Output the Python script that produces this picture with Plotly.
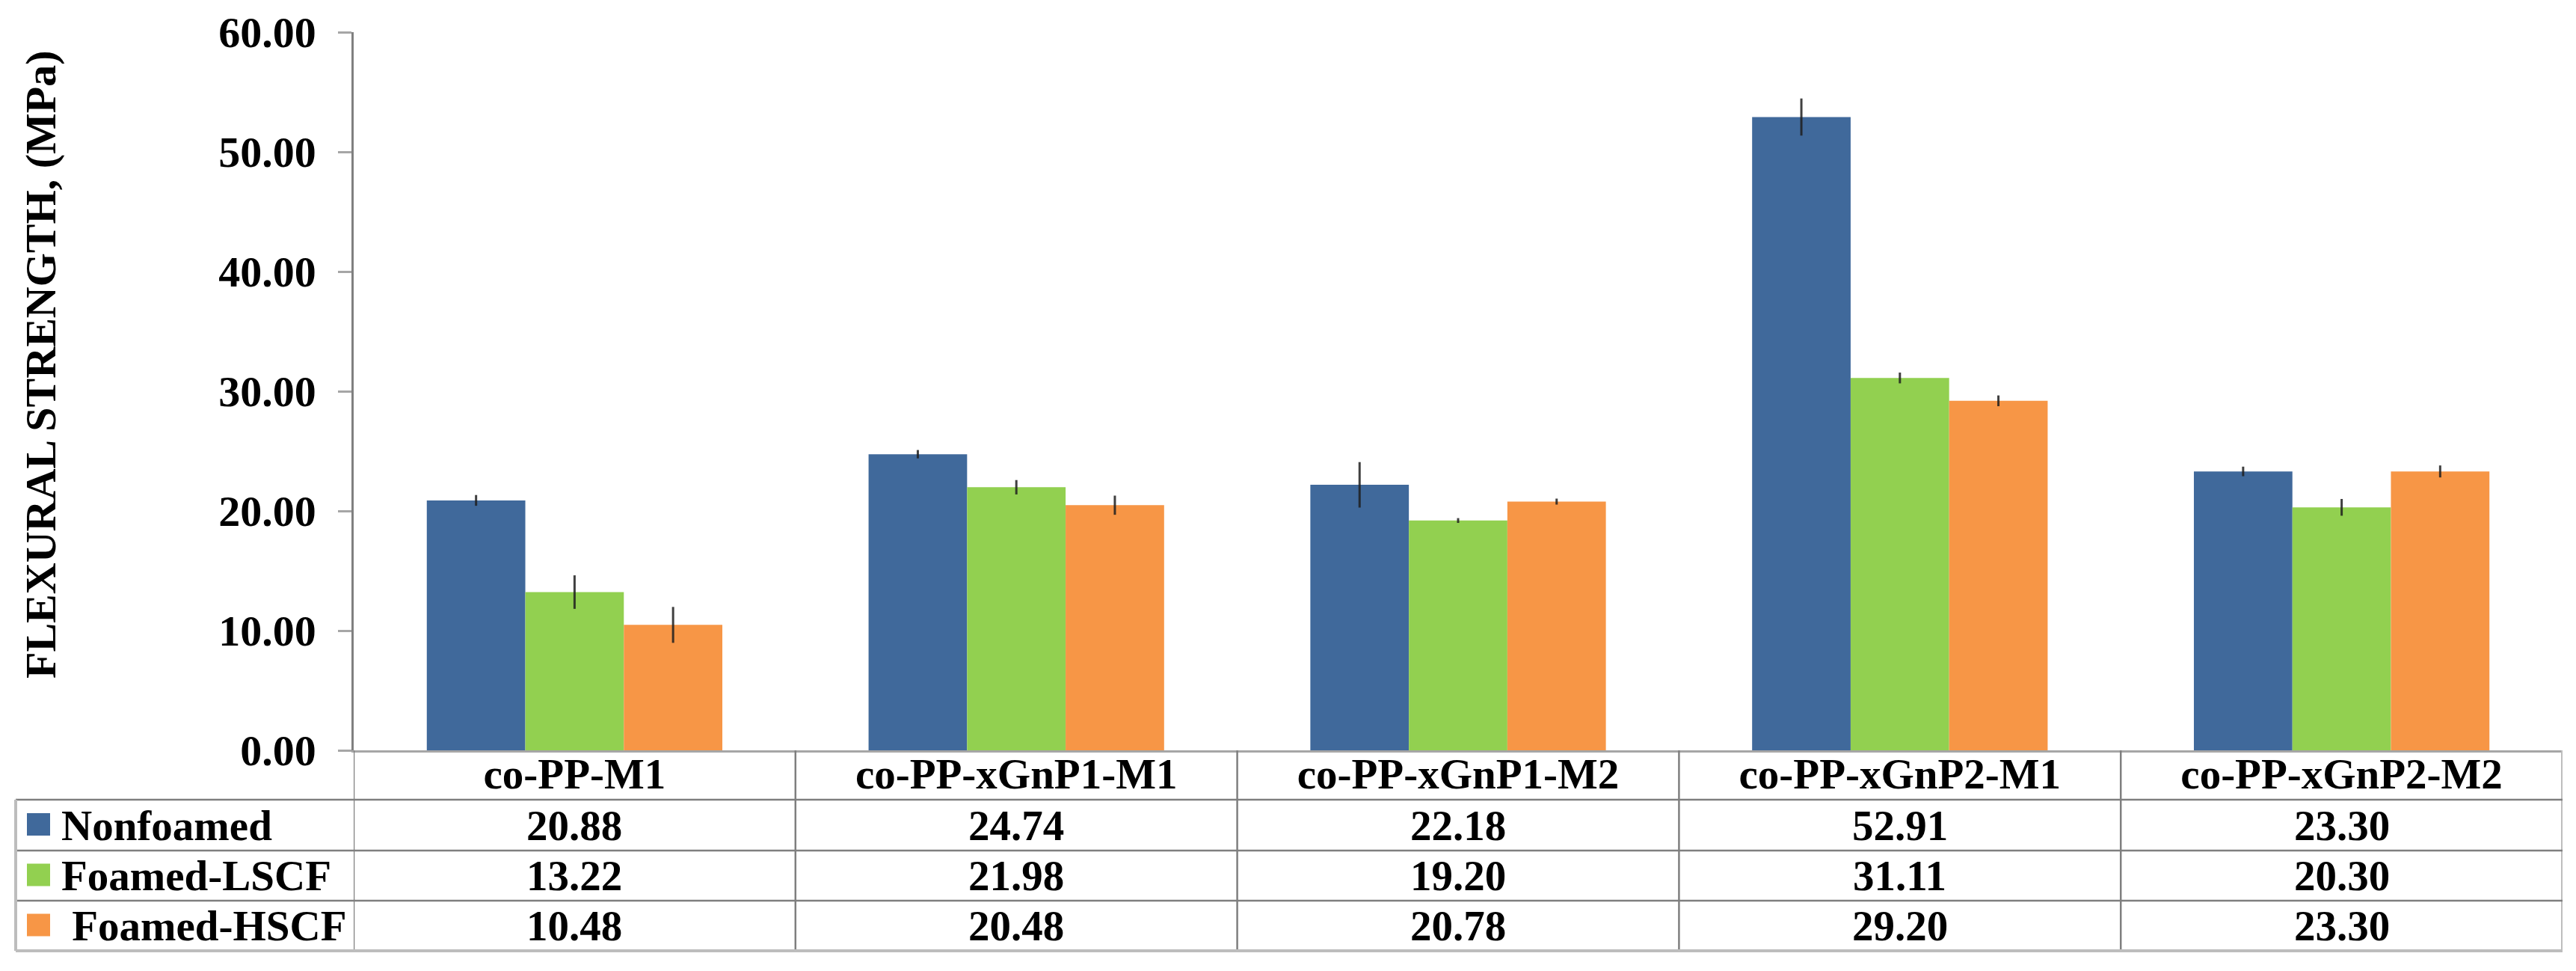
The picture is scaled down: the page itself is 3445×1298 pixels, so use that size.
import plotly.graph_objects as go

# ---------------- data ----------------
categories = ["co-PP-M1", "co-PP-xGnP1-M1", "co-PP-xGnP1-M2", "co-PP-xGnP2-M1", "co-PP-xGnP2-M2"]
series_names = ["Nonfoamed", "Foamed-LSCF", "Foamed-HSCF"]
nonfoamed = [20.88, 24.74, 22.18, 52.91, 23.30]
foamed_lscf = [13.22, 21.98, 19.20, 31.11, 20.30]
foamed_hscf = [10.48, 20.48, 20.78, 29.20, 23.30]
err_nonfoamed = [0.45, 0.35, 1.90, 1.55, 0.40]
err_lscf = [1.40, 0.60, 0.20, 0.45, 0.70]
err_hscf = [1.50, 0.80, 0.25, 0.45, 0.50]
y_ticks = [0, 10, 20, 30, 40, 50, 60]
y_title = "FLEXURAL STRENGTH, (MPa)"

# ---------------- style ----------------
colors = ["#40699B", "#92D050", "#F79646"]
FONT = "Liberation Serif, Times New Roman, serif"
FS = 57
W, H = 3445, 1298
L, R, T, B = 473, 18, 43, 295
plot_w = W - L - R
plot_h = H - T - B
row_edges_px = [66, 134, 201, 268]   # pixels below the zero line
legend_left_px = 21

def yp(px_below):
    return -px_below / plot_h

def xp(x_px):
    return (x_px - L) / plot_w

inner = "#7F7F7F"
outer = "#BDBDBD"

series_vals = [nonfoamed, foamed_lscf, foamed_hscf]
series_err = [err_nonfoamed, err_lscf, err_hscf]

fig = go.Figure()
for name, vals, errs, c in zip(series_names, series_vals, series_err, colors):
    fig.add_trace(go.Bar(
        x=categories, y=vals, name=name, marker=dict(color=c, line=dict(width=0)),
        error_y=dict(type="data", array=errs, visible=True, width=0,
                     thickness=3, color="rgba(30,30,30,0.85)"),
        showlegend=False,
    ))

shapes = []
n = len(categories)
bottom = yp(row_edges_px[-1])
# vertical separators (category boundaries)
for i in range(n):
    shapes.append(dict(type="line", xref="x", yref="paper", x0=i - 0.5, x1=i - 0.5,
                       y0=0, y1=bottom, line=dict(color=inner, width=2.5)))
# right border
shapes.append(dict(type="line", xref="x", yref="paper", x0=n - 0.5, x1=n - 0.5,
                   y0=0, y1=bottom, line=dict(color=outer, width=4)))
# horizontal row lines
for e in row_edges_px[:-1]:
    shapes.append(dict(type="line", xref="paper", yref="paper", x0=xp(legend_left_px), x1=1,
                       y0=yp(e), y1=yp(e), line=dict(color=inner, width=2.5)))
# bottom border
shapes.append(dict(type="line", xref="paper", yref="paper", x0=xp(legend_left_px), x1=1,
                   y0=bottom, y1=bottom, line=dict(color=outer, width=4)))
# legend column left border
shapes.append(dict(type="line", xref="paper", yref="paper", x0=xp(legend_left_px), x1=xp(legend_left_px),
                   y0=yp(row_edges_px[0]), y1=bottom, line=dict(color=outer, width=4)))

annotations = []
for r, (name, vals, c) in enumerate(zip(series_names, series_vals, colors)):
    top_px = row_edges_px[r]
    bot_px = row_edges_px[r + 1]
    mid = (top_px + bot_px) / 2
    # legend key square
    shapes.append(dict(type="rect", xref="paper", yref="paper",
                       x0=xp(36), x1=xp(67), y0=yp(mid - 1 - 15), y1=yp(mid - 1 + 15),
                       fillcolor=c, line=dict(width=0)))
    lead = "\u00a0" if r == 2 else ""
    annotations.append(dict(text="<b>" + lead + name + "</b>", xref="paper", yref="paper",
                            x=xp(80), y=yp(mid), xanchor="left", yanchor="middle",
                            showarrow=False, font=dict(family=FONT, size=FS, color="black")))
    for cat, v in zip(categories, vals):
        annotations.append(dict(text="<b>%.2f</b>" % v, xref="x", yref="paper",
                                x=cat, y=yp(mid), xanchor="center", yanchor="middle",
                                showarrow=False, font=dict(family=FONT, size=FS, color="black")))

# y-axis title
annotations.append(dict(text="<b>" + y_title + "</b>", xref="paper", yref="paper",
                        x=xp(55), y=(1003 - 488) / plot_h, textangle=-90,
                        xanchor="center", yanchor="middle", showarrow=False,
                        font=dict(family=FONT, size=58, color="black")))

fig.update_layout(
    width=W, height=H,
    margin=dict(l=L, r=R, t=T, b=B, pad=0),
    paper_bgcolor="white", plot_bgcolor="white",
    barmode="group", bargap=0.331, bargroupgap=0,
    shapes=shapes, annotations=annotations,
    font=dict(family=FONT, color="black"),
)
fig.update_xaxes(
    type="category", range=[-0.5, n - 0.5],
    showline=True, linecolor="#A6A6A6", linewidth=3,
    ticks="", showgrid=False, zeroline=False,
    tickfont=dict(family=FONT, size=FS, color="black", weight="bold"),
    ticklabelstandoff=-20,
)
fig.update_yaxes(
    range=[0, 60], tickvals=y_ticks, tickformat=".2f",
    showline=True, linecolor="#808080", linewidth=2.5,
    ticks="outside", ticklen=18, tickwidth=3, tickcolor="#A6A6A6",
    showgrid=False, zeroline=False,
    tickfont=dict(family=FONT, size=58, color="black", weight="bold"),
    ticklabelstandoff=18,
)

fig.write_html("out.html", config={"displayModeBar": False},
               post_script="document.body.style.margin='0';document.body.style.overflow='hidden';")
